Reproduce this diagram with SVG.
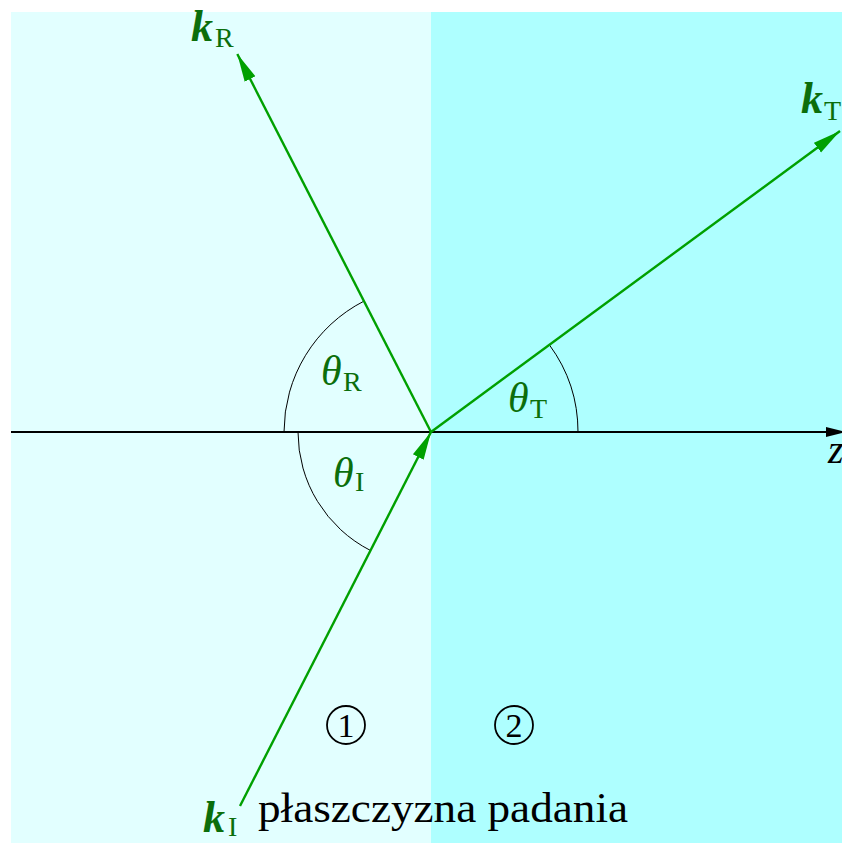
<svg xmlns="http://www.w3.org/2000/svg" width="842" height="843" viewBox="0 0 842 843">
  <defs>
    <marker id="ga" markerUnits="userSpaceOnUse" markerWidth="30" markerHeight="14" viewBox="-28 -7 30 14" refX="0" refY="0" orient="auto">
      <path d="M0,0 L-28,-6 L-28,6 Z" fill="#00A000"/>
    </marker>
  </defs>
  <style>
    .ray { stroke: #00A000; stroke-width: 2.4; fill: none; marker-end: url(#ga); }
    .arc { stroke: #000; stroke-width: 1; fill: none; }
    .gm { font-family: "Liberation Serif", serif; fill: #0B6E0B; }
    .it { font-style: italic; }
    .bi { font-style: italic; font-weight: bold; }
    .blk { font-family: "Liberation Serif", serif; fill: #000; }
  </style>
  <rect x="0" y="0" width="842" height="843" fill="#FFFFFF"/>
  <g id="medium1">
    <rect x="11" y="12" width="420" height="831" fill="#E2FFFF"/>
  </g>
  <g id="medium2">
    <rect x="431" y="12" width="411" height="831" fill="#AEFFFF"/>
  </g>
  <g id="axis">
    <line x1="11" y1="432" x2="828" y2="432" stroke="#000" stroke-width="1.8"/>
    <polygon points="826,427 846,432 826,437" fill="#000"/>
    <text class="blk it" x="828" y="463" font-size="40">z</text>
  </g>
  <g id="arcs">
    <path class="arc" d="M284,432 A147,147 0 0 1 364,301.1"/>
    <path class="arc" d="M298,432 A133,133 0 0 0 370.5,550.5"/>
    <path class="arc" d="M578,432 A147,147 0 0 0 549.4,344.9"/>
  </g>
  <g id="connectors">
    <line id="kI-ray" class="ray" x1="240" y1="806" x2="431" y2="432"/>
    <line id="kR-ray" class="ray" x1="431" y1="432" x2="237.3" y2="54"/>
    <line id="kT-ray" class="ray" x1="431" y1="432" x2="840" y2="131"/>
  </g>
  <g id="kR">
    <text class="gm bi" x="191" y="41" font-size="44">k</text>
    <text class="gm" x="215" y="46.5" font-size="28">R</text>
  </g>
  <g id="kT">
    <text class="gm bi" x="801" y="113" font-size="44">k</text>
    <text class="gm" x="824" y="120" font-size="28">T</text>
  </g>
  <g id="kI">
    <text class="gm bi" x="203" y="832" font-size="44">k</text>
    <text class="gm" x="228" y="836" font-size="28">I</text>
  </g>
  <g id="thetaR">
    <text class="gm it" x="321" y="385" font-size="42">θ</text>
    <text class="gm" x="343" y="391" font-size="28">R</text>
  </g>
  <g id="thetaT">
    <text class="gm it" x="508" y="412" font-size="42">θ</text>
    <text class="gm" x="530" y="418" font-size="28">T</text>
  </g>
  <g id="thetaI">
    <text class="gm it" x="333" y="487" font-size="42">θ</text>
    <text class="gm" x="355" y="491" font-size="28">I</text>
  </g>
  <g id="region1">
    <circle cx="346" cy="725" r="19" fill="none" stroke="#000" stroke-width="1.8"/>
    <text class="blk" x="346" y="737" font-size="34" text-anchor="middle">1</text>
  </g>
  <g id="region2">
    <circle cx="514" cy="725" r="19" fill="none" stroke="#000" stroke-width="1.8"/>
    <text class="blk" x="514" y="737" font-size="34" text-anchor="middle">2</text>
  </g>
  <g id="plane-label">
    <text class="blk" x="258" y="822" font-size="43" textLength="370" lengthAdjust="spacingAndGlyphs">płaszczyzna padania</text>
  </g>
</svg>
